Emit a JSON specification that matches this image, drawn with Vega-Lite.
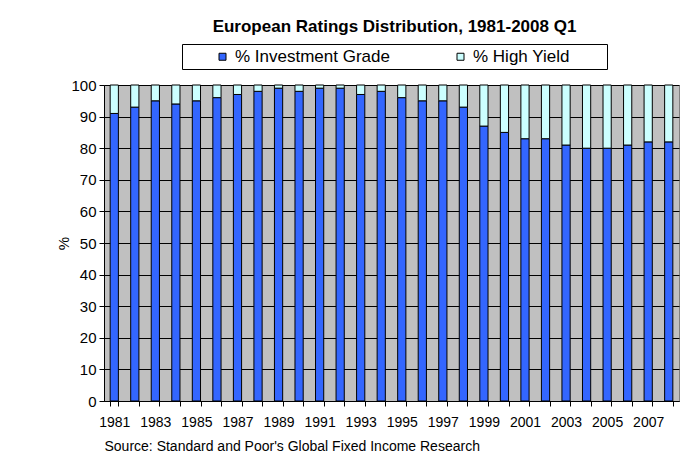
{
  "$schema": "https://vega.github.io/schema/vega-lite/v6.json",
  "width": 575,
  "height": 316,
  "autosize": {"type": "none"},
  "padding": {"left": 104, "top": 85, "right": 12, "bottom": 66},
  "background": "white",
  "title": {
    "text": "European Ratings Distribution, 1981-2008 Q1",
    "frame": "group",
    "anchor": "middle",
    "dx": 3,
    "offset": 8,
    "fontSize": 17,
    "fontWeight": "bold",
    "font": "Liberation Sans",
    "color": "#000000"
  },
  "data": {
    "values": [
      {"year": "1981", "ig": 91, "hy": 9},
      {"year": "1982", "ig": 93, "hy": 7},
      {"year": "1983", "ig": 95, "hy": 5},
      {"year": "1984", "ig": 94, "hy": 6},
      {"year": "1985", "ig": 95, "hy": 5},
      {"year": "1986", "ig": 96, "hy": 4},
      {"year": "1987", "ig": 97, "hy": 3},
      {"year": "1988", "ig": 98, "hy": 2},
      {"year": "1989", "ig": 99, "hy": 1},
      {"year": "1990", "ig": 98, "hy": 2},
      {"year": "1991", "ig": 99, "hy": 1},
      {"year": "1992", "ig": 99, "hy": 1},
      {"year": "1993", "ig": 97, "hy": 3},
      {"year": "1994", "ig": 98, "hy": 2},
      {"year": "1995", "ig": 96, "hy": 4},
      {"year": "1996", "ig": 95, "hy": 5},
      {"year": "1997", "ig": 95, "hy": 5},
      {"year": "1998", "ig": 93, "hy": 7},
      {"year": "1999", "ig": 87, "hy": 13},
      {"year": "2000", "ig": 85, "hy": 15},
      {"year": "2001", "ig": 83, "hy": 17},
      {"year": "2002", "ig": 83, "hy": 17},
      {"year": "2003", "ig": 81, "hy": 19},
      {"year": "2004", "ig": 80, "hy": 20},
      {"year": "2005", "ig": 80, "hy": 20},
      {"year": "2006", "ig": 81, "hy": 19},
      {"year": "2007", "ig": 82, "hy": 18},
      {"year": "2008", "ig": 82, "hy": 18}
    ]
  },
  "transform": [
    {"fold": ["ig", "hy"], "as": ["series", "pct"]}
  ],
  "mark": {"type": "bar", "stroke": "#000000", "strokeWidth": 1},
  "encoding": {
    "x": {
      "field": "year",
      "type": "nominal",
      "scale": {"paddingInner": 0.6, "paddingOuter": 0.3},
      "axis": {
        "title": "Source: Standard and Poor's Global Fixed Income Research",
        "titleAnchor": "start",
        "titleAlign": "left",
        "titleFontWeight": "normal",
        "titleFontSize": 14,
        "titlePadding": 10,
        "labelAngle": 0,
        "labelOverlap": false,
        "labelExpr": "toNumber(datum.value) % 2 == 1 ? datum.value : ''",
        "labelFontSize": 14,
        "labelPadding": 9,
        "tickBand": "extent",
        "tickSize": 5,
        "grid": false
      }
    },
    "y": {
      "field": "pct",
      "type": "quantitative",
      "stack": "zero",
      "scale": {"domain": [0, 100], "nice": false},
      "axis": {
        "title": "%",
        "titleFontWeight": "normal",
        "titleFontSize": 15,
        "titleX": -33,
        "titleY": 158,
        "titleAlign": "center",
        "titleBaseline": "bottom",
        "values": [0, 10, 20, 30, 40, 50, 60, 70, 80, 90, 100],
        "labelFontSize": 15,
        "labelPadding": 3,
        "tickSize": 5,
        "grid": true,
        "gridColor": "#000000",
        "gridWidth": 1
      }
    },
    "color": {
      "field": "series",
      "type": "nominal",
      "scale": {"domain": ["ig", "hy"], "range": ["#3366FF", "#CCFFFF"]},
      "legend": {
        "title": " ",
        "titleOrient": "right",
        "titlePadding": 33,
        "titleFontSize": 17,
        "orient": "none",
        "legendX": 78,
        "legendY": -41,
        "direction": "horizontal",
        "columnPadding": 34,
        "symbolType": "square",
        "symbolSize": 49,
        "symbolOffset": 28,
        "symbolStrokeColor": "#000000",
        "symbolStrokeWidth": 1,
        "labelOffset": 4,
        "labelFontSize": 17,
        "labelLimit": 400,
        "labelExpr": "datum.value == 'ig' ? '% Investment Grade' : '% High Yield'",
        "padding": 4,
        "strokeColor": "#000000",
        "fillColor": "#FFFFFF"
      }
    },
    "order": {"field": "series", "type": "nominal", "sort": "descending"}
  },
  "config": {
    "font": "Liberation Sans",
    "view": {"fill": "#C0C0C0", "stroke": "#808080", "strokeWidth": 1},
    "axis": {
      "domainColor": "#000000",
      "tickColor": "#000000",
      "labelColor": "#000000",
      "titleColor": "#000000",
      "labelFont": "Liberation Sans",
      "titleFont": "Liberation Sans"
    },
    "legend": {"labelColor": "#000000", "labelFont": "Liberation Sans"}
  }
}
